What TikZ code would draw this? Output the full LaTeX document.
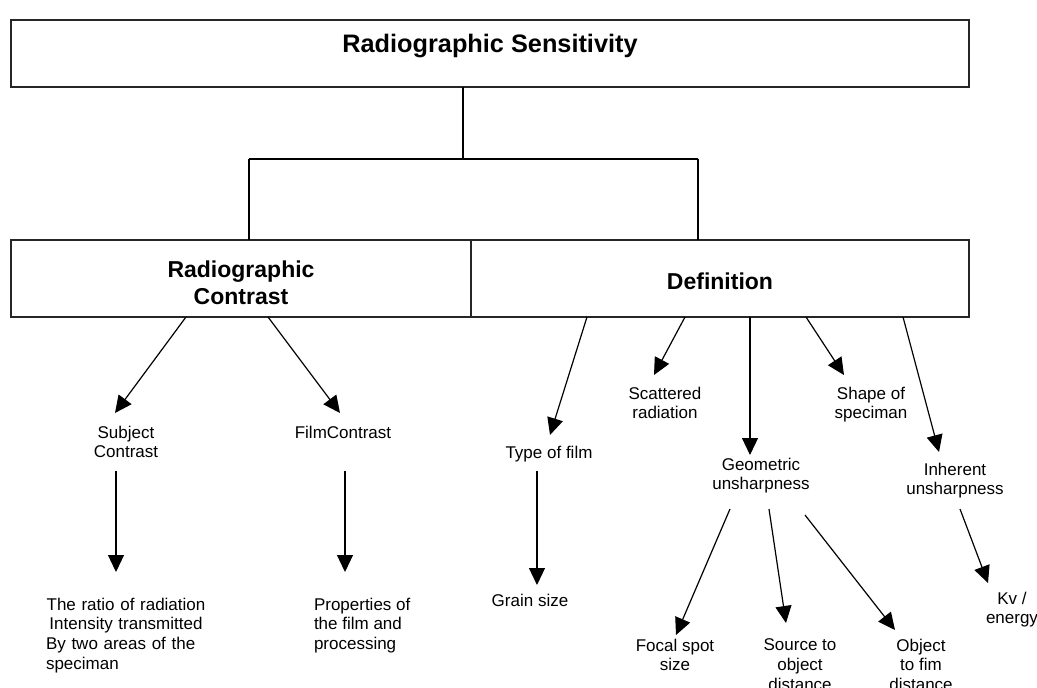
\documentclass[tikz,border=0pt]{standalone}
\usepackage{fontspec}
\setmainfont{Liberation Sans}
\usetikzlibrary{arrows.meta}
\begin{document}
\begin{tikzpicture}[x=1pt,y=-1pt,
  boxnode/.style={draw=black!85,line width=1.5pt,rectangle,inner sep=0pt,outer sep=0pt,anchor=north west},
  txt/.style={inner sep=0pt,outer sep=0pt,anchor=north,align=center,font=\fontsize{17}{19.7}\selectfont},
  conn/.style={line width=1.2pt,black},
  arr/.style={conn,-{Triangle[length=17pt,width=16pt]}}]
\useasboundingbox (0,0) rectangle (1037,688);
% boxes
\node[boxnode,minimum width=958pt,text height=32.05pt,text depth=34.95pt,font=\fontsize{25.3}{30}\selectfont\bfseries] (top) at (11,20) {Radiographic Sensitivity};
\node[boxnode,minimum width=460pt,text height=37.2pt,text depth=39.8pt,font=\fontsize{23}{27}\selectfont\bfseries] (rc) at (11,240) {\begin{tabular}[t]{@{}c@{}}Radiographic\\Contrast\end{tabular}};
\node[boxnode,minimum width=498pt,text height=49.2pt,text depth=27.8pt,font=\fontsize{23}{27}\selectfont\bfseries] (def) at (471,240) {Definition};
% tree connectors
\coordinate (j) at (463,159);
\coordinate (jl) at (249,159);
\coordinate (jr) at (698,159);
\draw[conn] (top.south -| j) -- (j);
\draw[conn] (jl) -- (jr);
\draw[conn] (jl) -- (jl |- rc.north);
\draw[conn] (jr) -- (jr |- def.north);
% text nodes
\node[txt] (subj) at (126,425.9) {Subject\\Contrast};
\node[txt] (film) at (343,425.9) {FilmContrast};
\node[txt,anchor=north west,text width=160pt,align=left] (ratio) at (46,597.9) {\makebox[160pt]{The ratio of radiation}\\\makebox[160pt]{Intensity transmitted}\\\makebox[160pt][s]{By two areas of the}\\speciman};
\node[txt,anchor=north west,align=left] (props) at (314,597.9) {Properties of\\the film and\\processing};
\node[txt] (type) at (549,445.9) {Type of film};
\node[txt] (grain) at (530,593.9) {Grain size};
\node[txt] (scat) at (665,386.9) {Scattered\\radiation};
\node[txt] (shape) at (871,386.9) {Shape of\\speciman};
\node[txt] (geo) at (761,457.9) {Geometric\\unsharpness};
\node[txt] (inh) at (955,462.9) {Inherent\\unsharpness};
\node[txt] (focal) at (675,638.9) {Focal spot\\size};
\node[txt] (source) at (800,638.9) {Source to\\object\\distance};
\node[txt] (object) at (921,638.9) {Object\\to fim\\distance};
\node[txt] (kv) at (1012,591.9) {Kv /\\energy};
% arrow end points
\coordinate (s1) at (186,317); \coordinate (e1) at (115,413);
\coordinate (s2) at (268,317); \coordinate (e2) at (340,413);
\coordinate (s3) at (116,471); \coordinate (e3) at (116,572);
\coordinate (s4) at (345,471); \coordinate (e4) at (345,572);
\coordinate (s5) at (587,317); \coordinate (e5) at (550,435);
\coordinate (s6) at (685,317); \coordinate (e6) at (654,375);
\coordinate (s7) at (750,317); \coordinate (e7) at (750,455);
\coordinate (s8) at (806,317); \coordinate (e8) at (844,375);
\coordinate (s9) at (903,317); \coordinate (e9) at (939,452);
\coordinate (s10) at (537,471); \coordinate (e10) at (537,585);
\coordinate (s11) at (730,509); \coordinate (e11) at (676,635);
\coordinate (s12) at (769,509); \coordinate (e12) at (786,623);
\coordinate (s13) at (805,515); \coordinate (e13) at (895,630);
\coordinate (s14) at (960,509); \coordinate (e14) at (988,583);
\foreach \i in {1,...,14} {\draw[arr] (s\i) -- (e\i);}
\end{tikzpicture}
\end{document}
